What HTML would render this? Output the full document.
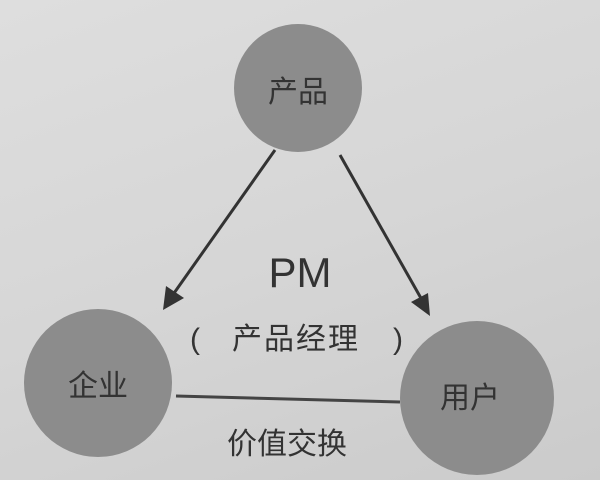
<!DOCTYPE html>
<html><head><meta charset="utf-8"><style>
html,body{margin:0;padding:0;width:600px;height:480px;overflow:hidden}
body{background:linear-gradient(160deg,#dedede 0%,#d6d6d6 50%,#cbcbcb 100%);font-family:"Liberation Sans","Noto Sans CJK SC",sans-serif;}
</style></head><body>
<svg width="600" height="480" xmlns="http://www.w3.org/2000/svg">
<circle cx="298" cy="88" r="64" fill="#8c8c8c"/>
<circle cx="98" cy="383" r="74" fill="#8c8c8c"/>
<circle cx="477" cy="398" r="77" fill="#8c8c8c"/>
<line x1="275" y1="150" x2="172" y2="296" stroke="#333" stroke-width="3"/>
<polygon points="163,310 166,286 184,298" fill="#333"/>
<line x1="340" y1="155" x2="422" y2="300" stroke="#333" stroke-width="3"/>
<polygon points="430,316 411,302 428,293" fill="#333"/>
<line x1="176" y1="396" x2="400" y2="402" stroke="#444" stroke-width="3"/>
<g fill="#333" text-anchor="middle" font-family="Liberation Sans, Noto Sans CJK SC, sans-serif">
<text x="298" y="102" font-size="30">产品</text>
<text x="98" y="396" font-size="30">企业</text>
<text x="470" y="408" font-size="30">用户</text>
<text x="300" y="287" font-size="42" font-weight="300">PM</text>
<text x="190" y="349" font-size="30" text-anchor="start">(</text>
<text x="296" y="349" font-size="30" letter-spacing="2">产品经理</text>
<text x="393" y="349" font-size="30" text-anchor="start">)</text>
<text x="287" y="454" font-size="30">价值交换</text>
</g>
</svg>
</body></html>
